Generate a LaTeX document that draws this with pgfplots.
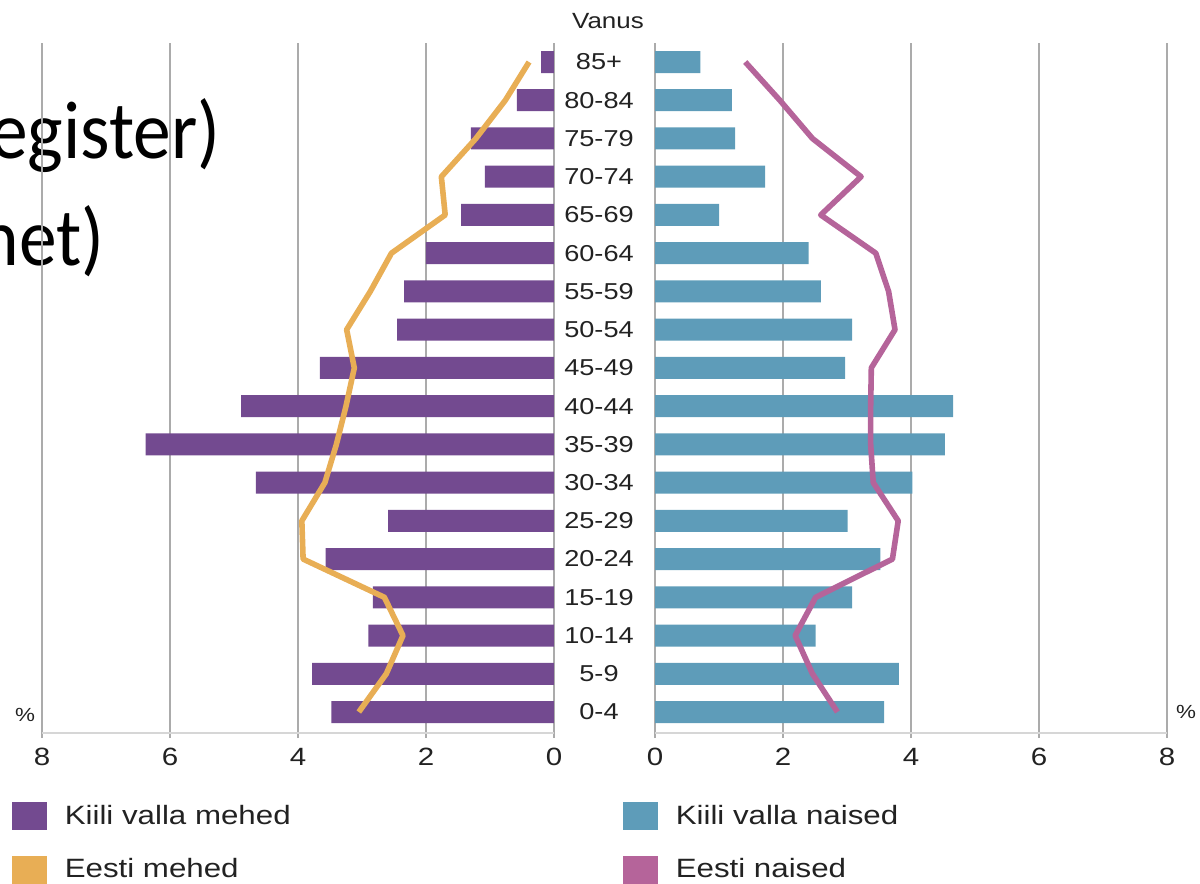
\documentclass[border=0pt]{standalone}
\usepackage{fontspec}
\setmainfont{Liberation Sans}[FakeStretch=1.18]
\newfontfamily\bigfont{Carlito}[FakeStretch=0.92]
\usepackage{pgfplots}
\pgfplotsset{compat=1.18}
\definecolor{kvm}{HTML}{734A90}
\definecolor{kvn}{HTML}{5E9CB9}
\definecolor{em}{HTML}{E8AE55}
\definecolor{en}{HTML}{B5649A}
\definecolor{gridc}{HTML}{ABABAB}
\definecolor{axc}{HTML}{D6D6D6}
\definecolor{txt}{HTML}{222222}
\pgfplotsset{pyr/.style={
  scale only axis, width=256bp, height=345bp,
  xmin=0, xmax=8, ymin=-0.549, ymax=17.497,
  xtick={0,2,4,6,8},
  xmajorgrids, grid style={gridc, line width=0.6bp},
  axis x line=bottom, axis y line=left, axis line style={-},
  x axis line style={axc, line width=1bp},
  y axis line style={draw=none},
  ytick style={draw=none},
  xtick style={gridc, line width=0.6bp},
  tick align=outside, major tick length=2.5bp,
  /pgf/number format/assume math mode=true,
  xticklabel style={font=\fontsize{12.5bp}{14bp}\selectfont, text=txt, inner sep=0pt, anchor=north, yshift=-5bp},
  legend cell align=left,
  legend style={anchor=north west, draw=none, fill=none, inner sep=0pt, outer sep=0pt,
    row sep=13bp,
    nodes={inner sep=0pt, font=\fontsize{13.25bp}{15bp}\selectfont, text=txt},
    /tikz/every odd column/.style={column sep=9bp}},
}}
\begin{document}
\begin{tikzpicture}
\clip (0,0) rectangle (600bp,-442bp);
\node[anchor=base east, inner sep=0pt, font=\bigfont\fontsize{41bp}{48bp}\selectfont] at (110.5bp,-79bp) {egister)};
\node[anchor=base east, inner sep=0pt, font=\bigfont\fontsize{41bp}{48bp}\selectfont] at (52.5bp,-132.5bp) {net)};

\begin{axis}[pyr, at={(21bp,-366.5bp)}, anchor=south west, x dir=reverse, ytick=\empty,
  legend style={at={(-0.0586,-0.1)}}]
\addplot[xbar, bar width=11bp, bar shift=0pt, fill=kvm, draw=none, forget plot] coordinates {
(3.48,0) (3.78,1) (2.90,2) (2.83,3) (3.57,4) (2.59,5) (4.66,6) (6.38,7) (4.89,8)
(3.66,9) (2.45,10) (2.34,11) (2.00,12) (1.45,13) (1.08,14) (1.30,15) (0.58,16) (0.20,17)};
\addplot[sharp plot, em, line width=2.8bp, line join=round, no marks, forget plot] coordinates {
(3.05,0) (2.62,1) (2.36,2) (2.65,3) (3.92,4) (3.94,5) (3.58,6) (3.40,7) (3.25,8)
(3.12,9) (3.24,10) (2.87,11) (2.54,12) (1.70,13) (1.76,14) (1.22,15) (0.76,16) (0.39,17)};
\addlegendimage{legend image code/.code={\fill[kvm] (0bp,-6.75bp) rectangle (17bp,6.75bp);}}
\addlegendentry{Kiili valla mehed}
\addlegendimage{legend image code/.code={\fill[em] (0bp,-6.75bp) rectangle (17bp,6.75bp);}}
\addlegendentry{Eesti mehed}
\end{axis}

\begin{axis}[pyr, at={(327.5bp,-366.5bp)}, anchor=south west,
  ytick={0,...,17},
  yticklabels={0-4,5-9,10-14,15-19,20-24,25-29,30-34,35-39,40-44,45-49,50-54,55-59,60-64,65-69,70-74,75-79,80-84,85+},
  yticklabel style={anchor=center, xshift=-25.5bp, inner sep=0pt, font=\fontsize{11.5bp}{13bp}\selectfont, text=txt},
  legend style={at={(-0.0625,-0.1)}}]
\addplot[xbar, bar width=11bp, bar shift=0pt, fill=kvn, draw=none, forget plot] coordinates {
(3.58,0) (3.81,1) (2.51,2) (3.08,3) (3.52,4) (3.01,5) (4.02,6) (4.53,7) (4.66,8)
(2.97,9) (3.08,10) (2.59,11) (2.40,12) (1.00,13) (1.72,14) (1.25,15) (1.20,16) (0.71,17)};
\addplot[sharp plot, en, line width=2.8bp, line join=round, no marks, forget plot] coordinates {
(2.85,0) (2.46,1) (2.19,2) (2.51,3) (3.71,4) (3.80,5) (3.41,6) (3.37,7) (3.37,8)
(3.38,9) (3.75,10) (3.65,11) (3.45,12) (2.59,13) (3.22,14) (2.46,15) (1.95,16) (1.41,17)};
\addlegendimage{legend image code/.code={\fill[kvn] (0bp,-6.75bp) rectangle (17bp,6.75bp);}}
\addlegendentry{Kiili valla naised}
\addlegendimage{legend image code/.code={\fill[en] (0bp,-6.75bp) rectangle (17bp,6.75bp);}}
\addlegendentry{Eesti naised}
\end{axis}

\node[inner sep=0pt, text=txt, font=\fontsize{11bp}{13bp}\selectfont] at (304bp,-10.5bp) {Vanus};
\node[inner sep=0pt, text=txt, font=\fontsize{9.5bp}{11bp}\selectfont] at (12.5bp,-357.5bp) {\%};
\node[inner sep=0pt, text=txt, font=\fontsize{9.5bp}{11bp}\selectfont] at (593bp,-356bp) {\%};
\end{tikzpicture}
\end{document}
